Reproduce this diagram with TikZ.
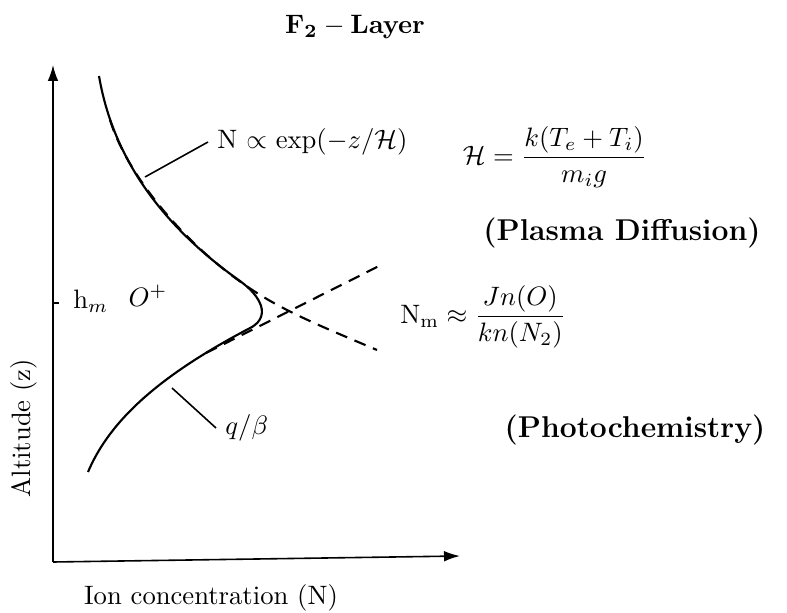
\documentclass[tikz,border=0pt]{standalone}
\usepackage{amsmath}
\usetikzlibrary{arrows.meta}
\begin{document}
\begin{tikzpicture}[x=0.0132cm,y=-0.0132cm,
  axis/.style={semithick,-{Latex[length=6pt,width=4pt]}},
  profile/.style={thick},
  model/.style={thick,dash pattern=on 4.5pt off 3pt},
  leader/.style={semithick},
  heading/.style={font=\fontsize{11.3}{13}\selectfont\bfseries}]
  \useasboundingbox (0,0) rectangle (787,613);

  % Axes: altitude up, ion concentration to the right.
  \coordinate (O) at (53,562);
  \coordinate (ztop) at (53,65);
  \coordinate (nend) at (460,556);
  \draw[axis] (O) -- (ztop);
  \draw[axis] (O) -- (nend);
  \node[rotate=90] (zlab) at (24,428) {Altitude (z)};
  \node (nlab) at (211,598) {Ion concentration (N)};
  \node (title) at (355,27) {$\mathbf{F_2-Layer}$};

  % tick at the peak height
  \coordinate (hm) at (53,303);
  \draw[semithick] (hm) -- ++(6,0);
  \node[anchor=west] (hmlab) at (64,301) {$\mathrm{h}_m$};
  \node (oplus) at (148,296) {$O^+$};

  % Diffusive equilibrium (exponential fall-off above the peak).
  \draw[model] (110,120) .. controls (126,172) and (182,245) .. (257,293)
    .. controls (290,314) and (330,330) .. (377,350);
  % Photochemical equilibrium below the peak.
  \draw[model] (206,353) -- (383,264);

  % Actual profile: follows the two limits and turns at h_m.
  \draw[profile] (99,76) .. controls (115,170) and (175,235) .. (240,281)
    .. controls (262,297) and (270,316) .. (252,327)
    .. controls (160,375) and (110,420) .. (88,472);

  % labels with leader lines
  \coordinate (expfoot) at (145,177);
  \node[anchor=west] (explab) at (208,142) {N $\propto$ $\exp(-z/\mathcal{H})$};
  \draw[leader] (expfoot) -- (explab.west);
  \coordinate (qfoot) at (172,388);
  \node[anchor=west] (qlab) at (216,428) {$q/\beta$};
  \draw[leader] (qfoot) -- (qlab.west);

  \node (scale) at (555,157) {$\mathcal{H}=\dfrac{k(T_e+T_i)}{m_i g}$};
  \node[heading] (diff) at (622,233) {(Plasma Diffusion)};
  \node[anchor=west] (nm) at (391,317) {$\mathrm{N_m}\approx\dfrac{Jn(O)}{kn(N_2)}$};
  \node[heading] (photo) at (635,430) {(Photochemistry)};
\end{tikzpicture}
\end{document}
